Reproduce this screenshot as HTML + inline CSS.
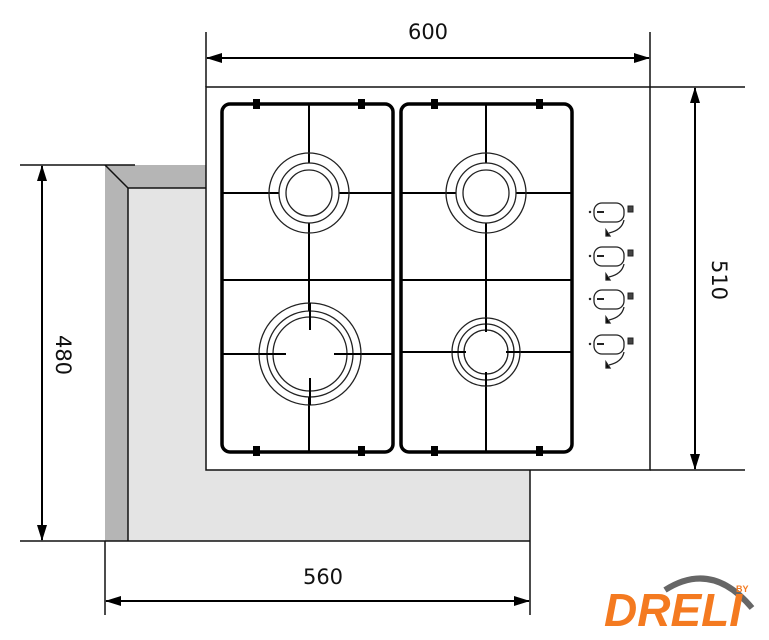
<!DOCTYPE html>
<html><head><meta charset="utf-8"><style>
html,body{margin:0;padding:0;background:#fff;width:769px;height:640px;overflow:hidden}
svg{display:block}
text{font-family:"DejaVu Sans","Liberation Sans",sans-serif;font-size:21px;fill:#111}
</style></head><body>
<svg width="769" height="640" viewBox="0 0 769 640" xmlns="http://www.w3.org/2000/svg">
<defs>
<marker id="a" markerWidth="16" markerHeight="10" refX="15" refY="5" orient="auto" markerUnits="userSpaceOnUse" viewBox="0 0 16 10">
<path d="M0,0 L16,5 L0,10 z" fill="#000"/></marker>
</defs>
<polygon points="105,165 206,165 206,188 128,188 128,541 105,541" fill="#b5b5b5"/>
<rect x="128" y="188" width="402" height="353" fill="#e4e4e4"/>
<path d="M105,165 L128,188 L206,188 M128,188 L128,541" stroke="#111" stroke-width="1.5" fill="none"/>
<line x1="530" y1="470" x2="530" y2="615" stroke="#111" stroke-width="1.5"/>
<line x1="105" y1="541" x2="105" y2="615" stroke="#111" stroke-width="1.5"/>
<line x1="20" y1="541" x2="530" y2="541" stroke="#111" stroke-width="1.5"/>
<line x1="20" y1="165" x2="135" y2="165" stroke="#111" stroke-width="1.5"/>
<rect x="206" y="87" width="444" height="383" fill="#fff" stroke="#111" stroke-width="1.5"/>
<line x1="650" y1="87" x2="745" y2="87" stroke="#111" stroke-width="1.5"/>
<line x1="650" y1="470" x2="745" y2="470" stroke="#111" stroke-width="1.5"/>
<line x1="206" y1="32" x2="206" y2="87" stroke="#111" stroke-width="1.5"/>
<line x1="650" y1="32" x2="650" y2="87" stroke="#111" stroke-width="1.5"/>
<line x1="220" y1="58" x2="649" y2="58" stroke="#000" stroke-width="2" marker-end="url(#a)"/>
<line x1="636" y1="58" x2="207" y2="58" stroke="#000" stroke-width="2" marker-end="url(#a)"/>
<text x="428" y="39" text-anchor="middle">600</text>
<line x1="695" y1="100" x2="695" y2="469" stroke="#000" stroke-width="2" marker-end="url(#a)"/>
<line x1="695" y1="456" x2="695" y2="88" stroke="#000" stroke-width="2" marker-end="url(#a)"/>
<text transform="translate(712,280) rotate(90)" text-anchor="middle">510</text>
<line x1="42" y1="178" x2="42" y2="540" stroke="#000" stroke-width="2" marker-end="url(#a)"/>
<line x1="42" y1="528" x2="42" y2="166" stroke="#000" stroke-width="2" marker-end="url(#a)"/>
<text transform="translate(56,355) rotate(90)" text-anchor="middle">480</text>
<line x1="118" y1="601" x2="529" y2="601" stroke="#000" stroke-width="2" marker-end="url(#a)"/>
<line x1="517" y1="601" x2="106" y2="601" stroke="#000" stroke-width="2" marker-end="url(#a)"/>
<text x="323" y="584" text-anchor="middle">560</text>
<g stroke="#000" fill="none">
<rect x="222" y="104" width="171" height="348" rx="8" stroke-width="3.5"/>
<rect x="401" y="104" width="171" height="348" rx="8" stroke-width="3.5"/>
<g stroke-width="2">
<line x1="309" y1="104" x2="309" y2="452"/><line x1="222" y1="193" x2="393" y2="193"/>
<line x1="222" y1="280" x2="393" y2="280"/><line x1="222" y1="354" x2="393" y2="354"/>
<line x1="486" y1="104" x2="486" y2="452"/><line x1="401" y1="193" x2="572" y2="193"/>
<line x1="401" y1="280" x2="572" y2="280"/><line x1="401" y1="352" x2="572" y2="352"/>
</g>
</g>
<g fill="#000">
<rect x="253" y="99" width="7" height="10"/><rect x="358" y="99" width="7" height="10"/>
<rect x="431" y="99" width="7" height="10"/><rect x="536" y="99" width="7" height="10"/>
<rect x="253" y="446" width="7" height="10"/><rect x="358" y="446" width="7" height="10"/>
<rect x="431" y="446" width="7" height="10"/><rect x="536" y="446" width="7" height="10"/>
</g>
<g stroke="#222" stroke-width="1.3">
<circle cx="309" cy="193" r="30" fill="#fff"/><circle cx="309" cy="193" r="40" fill="none"/><circle cx="309" cy="193" r="23" fill="none"/>
<circle cx="486" cy="193" r="30" fill="#fff"/><circle cx="486" cy="193" r="40" fill="none"/><circle cx="486" cy="193" r="23" fill="none"/>
<circle cx="310" cy="354" r="43" fill="#fff"/><circle cx="310" cy="354" r="51" fill="none"/><circle cx="310" cy="354" r="37" fill="none"/>
<circle cx="486" cy="352" r="28" fill="#fff"/><circle cx="486" cy="352" r="34" fill="none"/><circle cx="486" cy="352" r="22" fill="none"/>
</g>
<g stroke="#000" stroke-width="2">
<line x1="310" y1="303" x2="310" y2="330"/><line x1="310" y1="378" x2="310" y2="405"/>
<line x1="259" y1="354" x2="286" y2="354"/><line x1="334" y1="354" x2="361" y2="354"/>
<line x1="486" y1="318" x2="486" y2="332"/><line x1="486" y1="372" x2="486" y2="386"/>
<line x1="452" y1="352" x2="466" y2="352"/><line x1="506" y1="352" x2="520" y2="352"/>
</g>
<g stroke="#222" stroke-width="1.3" fill="none">
<g id="k"><rect x="594" y="203" width="30" height="19" rx="8"/><line x1="597" y1="212" x2="604" y2="212" stroke-width="2"/>
<path d="M624,220 Q622,230 609,233"/><path d="M606,230 L610,236 L606,236z" fill="#000"/><rect x="628" y="206" width="5" height="6" stroke-width="1" fill="#444"/><circle cx="590" cy="212" r="0.6" fill="#000"/></g>
<use href="#k" y="44"/><use href="#k" y="87"/><use href="#k" y="132"/>
</g>
<path d="M665,590 Q712,560 752,608" stroke="#666" stroke-width="6" fill="none"/>
<text x="604" y="626" style="font-family:'Liberation Sans',sans-serif;font-size:46px;font-weight:bold;font-style:italic;fill:#f47a20">DRELI</text>
<text x="736" y="592" style="font-family:'Liberation Sans',sans-serif;font-size:9px;font-weight:bold;fill:#f47a20">BY</text>
</svg>
</body></html>
